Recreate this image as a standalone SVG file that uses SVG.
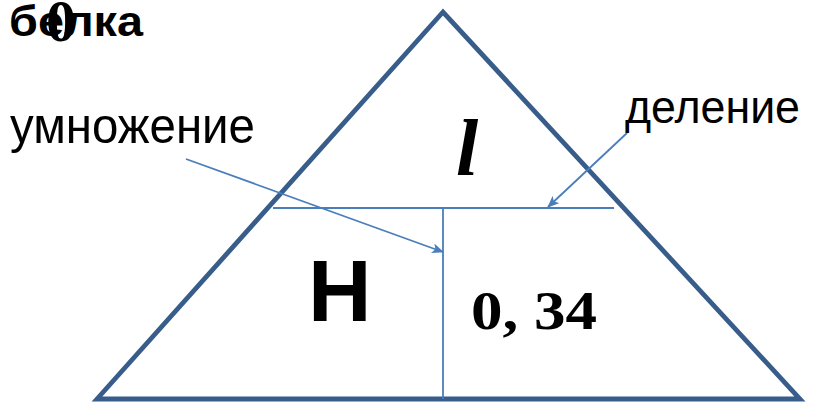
<svg xmlns="http://www.w3.org/2000/svg" width="818" height="402" viewBox="0 0 818 402">
<style>
.sans{font-family:"Liberation Sans",Arial,sans-serif;fill:#000}
.serif{font-family:"Liberation Serif","Times New Roman",serif;fill:#000;font-weight:bold}
.inner{stroke:#4A7EBB;stroke-width:1.8;fill:none}
</style>
<defs>
<marker id="arr" viewBox="0 0 12 10" refX="11" refY="5" markerWidth="12" markerHeight="10" markerUnits="userSpaceOnUse" orient="auto">
<path d="M0,0 L12,5 L0,10 L3,5 Z" fill="#4A7EBB"/>
</marker>
</defs>
<rect width="818" height="402" fill="#fff"/>
<g id="title">
<text class="sans" x="9" y="36" font-size="42" font-weight="bold" textLength="134" lengthAdjust="spacingAndGlyphs">белка</text>
<text class="serif" x="46" y="41" font-size="60">0</text>
</g>
<g id="triangle">
<polygon points="443,12 97,399 800,399" fill="none" stroke="#385D8A" stroke-width="4.8" stroke-linejoin="miter"/>
</g>
<g id="connectors">
<line class="inner" x1="273" y1="208" x2="614" y2="208"/>
<line class="inner" x1="443" y1="208" x2="443" y2="399"/>
<line class="inner" x1="186" y1="159" x2="443" y2="252" marker-end="url(#arr)"/>
<line class="inner" x1="627" y1="133" x2="548" y2="207" marker-end="url(#arr)"/>
</g>
<g id="label-mult">
<text class="sans" x="10" y="143" font-size="50" textLength="245" lengthAdjust="spacingAndGlyphs">умножение</text>
</g>
<g id="label-div">
<text class="sans" x="625" y="123" font-size="47" textLength="175" lengthAdjust="spacingAndGlyphs">деление</text>
</g>
<g id="node-l">
<text class="serif" x="456" y="175" font-size="80" font-style="italic">l</text>
</g>
<g id="node-H">
<text class="sans" x="308" y="321" font-size="88" font-weight="bold">H</text>
</g>
<g id="node-034">
<text class="serif" x="471" y="329" font-size="54" textLength="126" lengthAdjust="spacingAndGlyphs">0, 34</text>
</g>
</svg>
